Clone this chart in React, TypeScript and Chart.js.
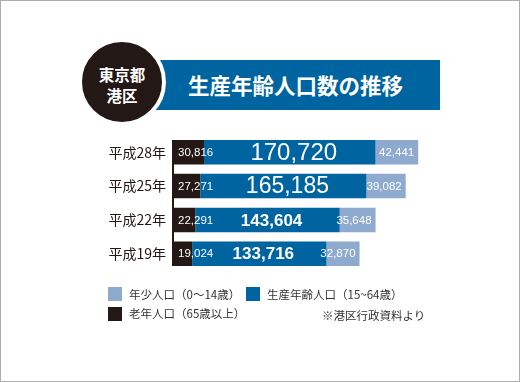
import React, { useEffect, useRef } from 'react';
import { Chart, registerables } from 'chart.js';

Chart.register(...registerables);

// ---- data ----
const categories = ['平成28年', '平成25年', '平成22年', '平成19年'];
const elderlyValues = [30816, 27271, 22291, 19024];
const workingValues = [170720, 165185, 143604, 133716];
const youthValues = [42441, 39082, 35648, 32870];

const elderlyName = '老年人口（65歳以上）';
const workingName = '生産年齢人口（15~64歳）';
const youthName = '年少人口（0～14歳）';

const titleText = '生産年齢人口数の推移';
const badgeLines = ['東京都', '港区'];
const sourceNote = '※港区行政資料より';

// ---- styles ----
const BLACK = '#231815';
const BLUE = '#0064a0';
const LIGHT = '#8eaacf';
const workingLabelSizes = [24, 23, 17, 17];
const workingLabelWeights = ['normal', 'normal', 'bold', 'bold'];
const CJK = '"Noto Sans CJK JP", "Noto Sans", sans-serif';
const NUM = '"Liberation Sans", Arial, sans-serif';

const fmt = (v: number) => v.toLocaleString('en-US');

const axisLinePlugin = {
  id: 'axisLine',
  afterDatasetsDraw(chart: any) {
    const meta = chart.getDatasetMeta(0);
    const bars = meta.data;
    if (!bars.length) return;
    const first = bars[0].getProps(['y', 'height'], true);
    const last = bars[bars.length - 1].getProps(['y', 'height'], true);
    const ctx = chart.ctx;
    ctx.save();
    ctx.strokeStyle = BLACK;
    ctx.lineWidth = 2;
    ctx.beginPath();
    const x = chart.chartArea.left;
    ctx.moveTo(x, first.y - first.height / 2);
    ctx.lineTo(x, last.y + last.height / 2);
    ctx.stroke();
    ctx.restore();
  },
};

const labelPlugin = {
  id: 'barLabels',
  afterDatasetsDraw(chart: any) {
    const ctx = chart.ctx;
    ctx.save();
    ctx.fillStyle = '#ffffff';
    ctx.textBaseline = 'middle';
    chart.data.datasets.forEach((ds: any, di: number) => {
      const meta = chart.getDatasetMeta(di);
      meta.data.forEach((bar: any, i: number) => {
        const { x, y, base } = bar.getProps(['x', 'y', 'base'], true);
        const text = fmt(ds.data[i]);
        if (di === 0) {
          ctx.font = `11.5px ${NUM}`;
          ctx.textAlign = 'left';
          ctx.fillText(text, base + 5, y + 0.5);
        } else if (di === 1) {
          ctx.font = `${workingLabelWeights[i]} ${workingLabelSizes[i]}px ${NUM}`;
          ctx.textAlign = 'center';
          ctx.fillText(text, (base + x) / 2 + 4, y + 1);
        } else {
          ctx.font = `11.5px ${NUM}`;
          ctx.textAlign = 'right';
          ctx.fillText(text, x - 4, y + 0.5);
        }
      });
    });
    ctx.restore();
  },
};

function BarChart() {
  const ref = useRef<HTMLCanvasElement | null>(null);
  useEffect(() => {
    if (!ref.current) return;
    const chart = new Chart(ref.current, {
      type: 'bar',
      data: {
        labels: categories,
        datasets: [
          { label: elderlyName, data: elderlyValues, backgroundColor: BLACK },
          { label: workingName, data: workingValues, backgroundColor: BLUE },
          { label: youthName, data: youthValues, backgroundColor: LIGHT },
        ],
      },
      options: {
        indexAxis: 'y',
        responsive: false,
        animation: false,
        devicePixelRatio: 1,
        layout: { padding: { left: 0, right: 45.5, top: 3, bottom: 3 } },
        datasets: { bar: { barPercentage: 0.725, categoryPercentage: 1, borderWidth: 0 } },
        plugins: {
          legend: { display: false },
          title: { display: false },
          tooltip: { enabled: false },
        },
        scales: {
          x: { stacked: true, display: false, min: 0, max: 300000 },
          y: {
            stacked: true,
            grid: { display: false, drawTicks: false },
            border: { display: false },
            ticks: {
              padding: 7,
              color: BLACK,
              font: { family: CJK, size: 14 },
            },
            afterFit: (scale: any) => {
              scale.width = 173;
            },
          },
        },
      },
      plugins: [axisLinePlugin, labelPlugin],
    } as any);
    return () => chart.destroy();
  }, []);
  return (
    <canvas
      ref={ref}
      width={520}
      height={166}
      style={{ position: 'absolute', left: 0, top: 120, width: 520, height: 166 }}
    />
  );
}

const swatch = (color: string, left: number, top: number) => (
  <div style={{ position: 'absolute', left, top, width: 14, height: 14, background: color }} />
);

const legendText = (text: string, left: number, centerY: number) => (
  <div
    style={{
      position: 'absolute',
      left,
      top: centerY - 9,
      height: 18,
      lineHeight: '18px',
      fontFamily: CJK,
      fontSize: 11.5,
      color: '#333',
      whiteSpace: 'nowrap',
    }}
  >
    {text}
  </div>
);

export default function App() {
  return (
    <div
      style={{
        position: 'fixed',
        left: 0,
        top: 0,
        width: 520,
        height: 382,
        boxSizing: 'border-box',
        border: '1px solid #adadad',
        background: '#fff',
        overflow: 'hidden',
      }}
    >
      <div style={{ position: 'absolute', left: -1, top: -1, width: 520, height: 382 }}>
        {/* title banner */}
        <div
          style={{
            position: 'absolute',
            left: 150,
            top: 60,
            width: 289.5,
            height: 50,
            background: BLUE,
          }}
        />
        <div
          style={{
            position: 'absolute',
            left: 188,
            top: 70,
            height: 30,
            lineHeight: '30px',
            color: '#fff',
            fontFamily: CJK,
            fontWeight: 700,
            fontSize: 21.5,
            whiteSpace: 'nowrap',
          }}
        >
          {titleText}
        </div>
        {/* badge circle */}
        <div
          style={{
            position: 'absolute',
            left: 78,
            top: 38,
            width: 88,
            height: 88,
            boxSizing: 'border-box',
            borderRadius: '50%',
            border: '4px solid #fff',
            background: BLACK,
          }}
        />
        <div
          style={{
            position: 'absolute',
            left: 82,
            top: 63.5,
            width: 80,
            textAlign: 'center',
            color: '#fff',
            fontFamily: CJK,
            fontWeight: 700,
            fontSize: 15.5,
            lineHeight: '21px',
          }}
        >
          <div>{badgeLines[0]}</div>
          <div>{badgeLines[1]}</div>
        </div>

        <BarChart />

        {/* legend */}
        {swatch(LIGHT, 108, 287)}
        {legendText(youthName, 129, 294)}
        {swatch(BLUE, 246, 287)}
        {legendText(workingName, 267, 294)}
        {swatch(BLACK, 108, 306.5)}
        {legendText(elderlyName, 129, 313)}
        {legendText(sourceNote, 322, 314.5)}
      </div>
    </div>
  );
}
